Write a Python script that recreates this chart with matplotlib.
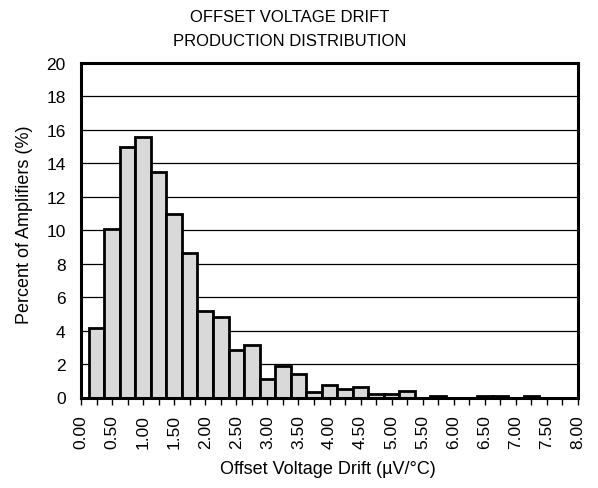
import matplotlib
matplotlib.use("Agg")
import matplotlib.pyplot as plt
import numpy as np

plt.rcParams['font.family'] = ['Liberation Sans', 'DejaVu Sans']

# bin centres (µV/°C) and percentages
drift = [0.25, 0.50, 0.75, 1.00, 1.25, 1.50, 1.75, 2.00, 2.25, 2.50, 2.75,
         3.00, 3.25, 3.50, 3.75, 4.00, 4.25, 4.50, 4.75, 5.00, 5.25, 5.50,
         5.75, 6.00, 6.25, 6.50, 6.75, 7.00, 7.25, 7.50, 7.75]
percent = [4.15, 10.1, 14.95, 15.55, 13.5, 11.0, 8.65, 5.2, 4.8, 2.85, 3.15,
           1.1, 1.9, 1.4, 0.3, 0.75, 0.5, 0.65, 0.2, 0.2, 0.4, 0.0,
           0.1, 0.0, 0.0, 0.1, 0.1, 0.0, 0.1, 0.0, 0.0]
tick_values = [0.25 * i for i in range(33)]
tick_labels = [f"{v:.2f}" if i % 2 == 0 else "" for i, v in enumerate(tick_values)]

fig = plt.figure(figsize=(5.98, 4.89), dpi=100)
ax = fig.add_axes([81/598, 1 - 398.5/489, (578-81)/598, (398.5-64)/489])

ax.bar(drift, percent, width=0.25, color='#d9d9d9', edgecolor='black',
       linewidth=2.0, zorder=3)

ax.set_xlim(0, 8)
ax.set_ylim(0, 20)
ax.set_yticks(range(0, 21, 2))
ax.yaxis.grid(True, color='black', linewidth=0.9, zorder=0)
ax.tick_params(axis='y', length=0, labelsize=12.5, pad=11)
ax.set_xticks(tick_values)
ax.set_xticklabels(tick_labels, rotation=90, fontsize=12.5)
ax.tick_params(axis='x', direction='out', length=5, width=1, pad=7)

for s in ax.spines.values():
    s.set_linewidth(2.2)
    s.set_color('black')
    s.set_zorder(5)

ax.set_xlabel("Offset Voltage Drift (µV/°C)", fontsize=13)
ax.set_ylabel("Percent of Amplifiers (%)", fontsize=13)
ax.xaxis.label.set_va('center')
ax.yaxis.label.set_va('center')
ax.xaxis.set_label_coords((328 - 81) / 497, (398.5 - 470) / 334.5)
ax.yaxis.set_label_coords((25 - 81) / 497, (398.5 - 225) / 334.5)

fig.text(290/598, 1 - 17/489, "OFFSET VOLTAGE DRIFT", ha='center', va='center', fontsize=12)
fig.text(290/598, 1 - 42/489, "PRODUCTION DISTRIBUTION", ha='center', va='center', fontsize=12)

fig.savefig("out.png", dpi=100)
